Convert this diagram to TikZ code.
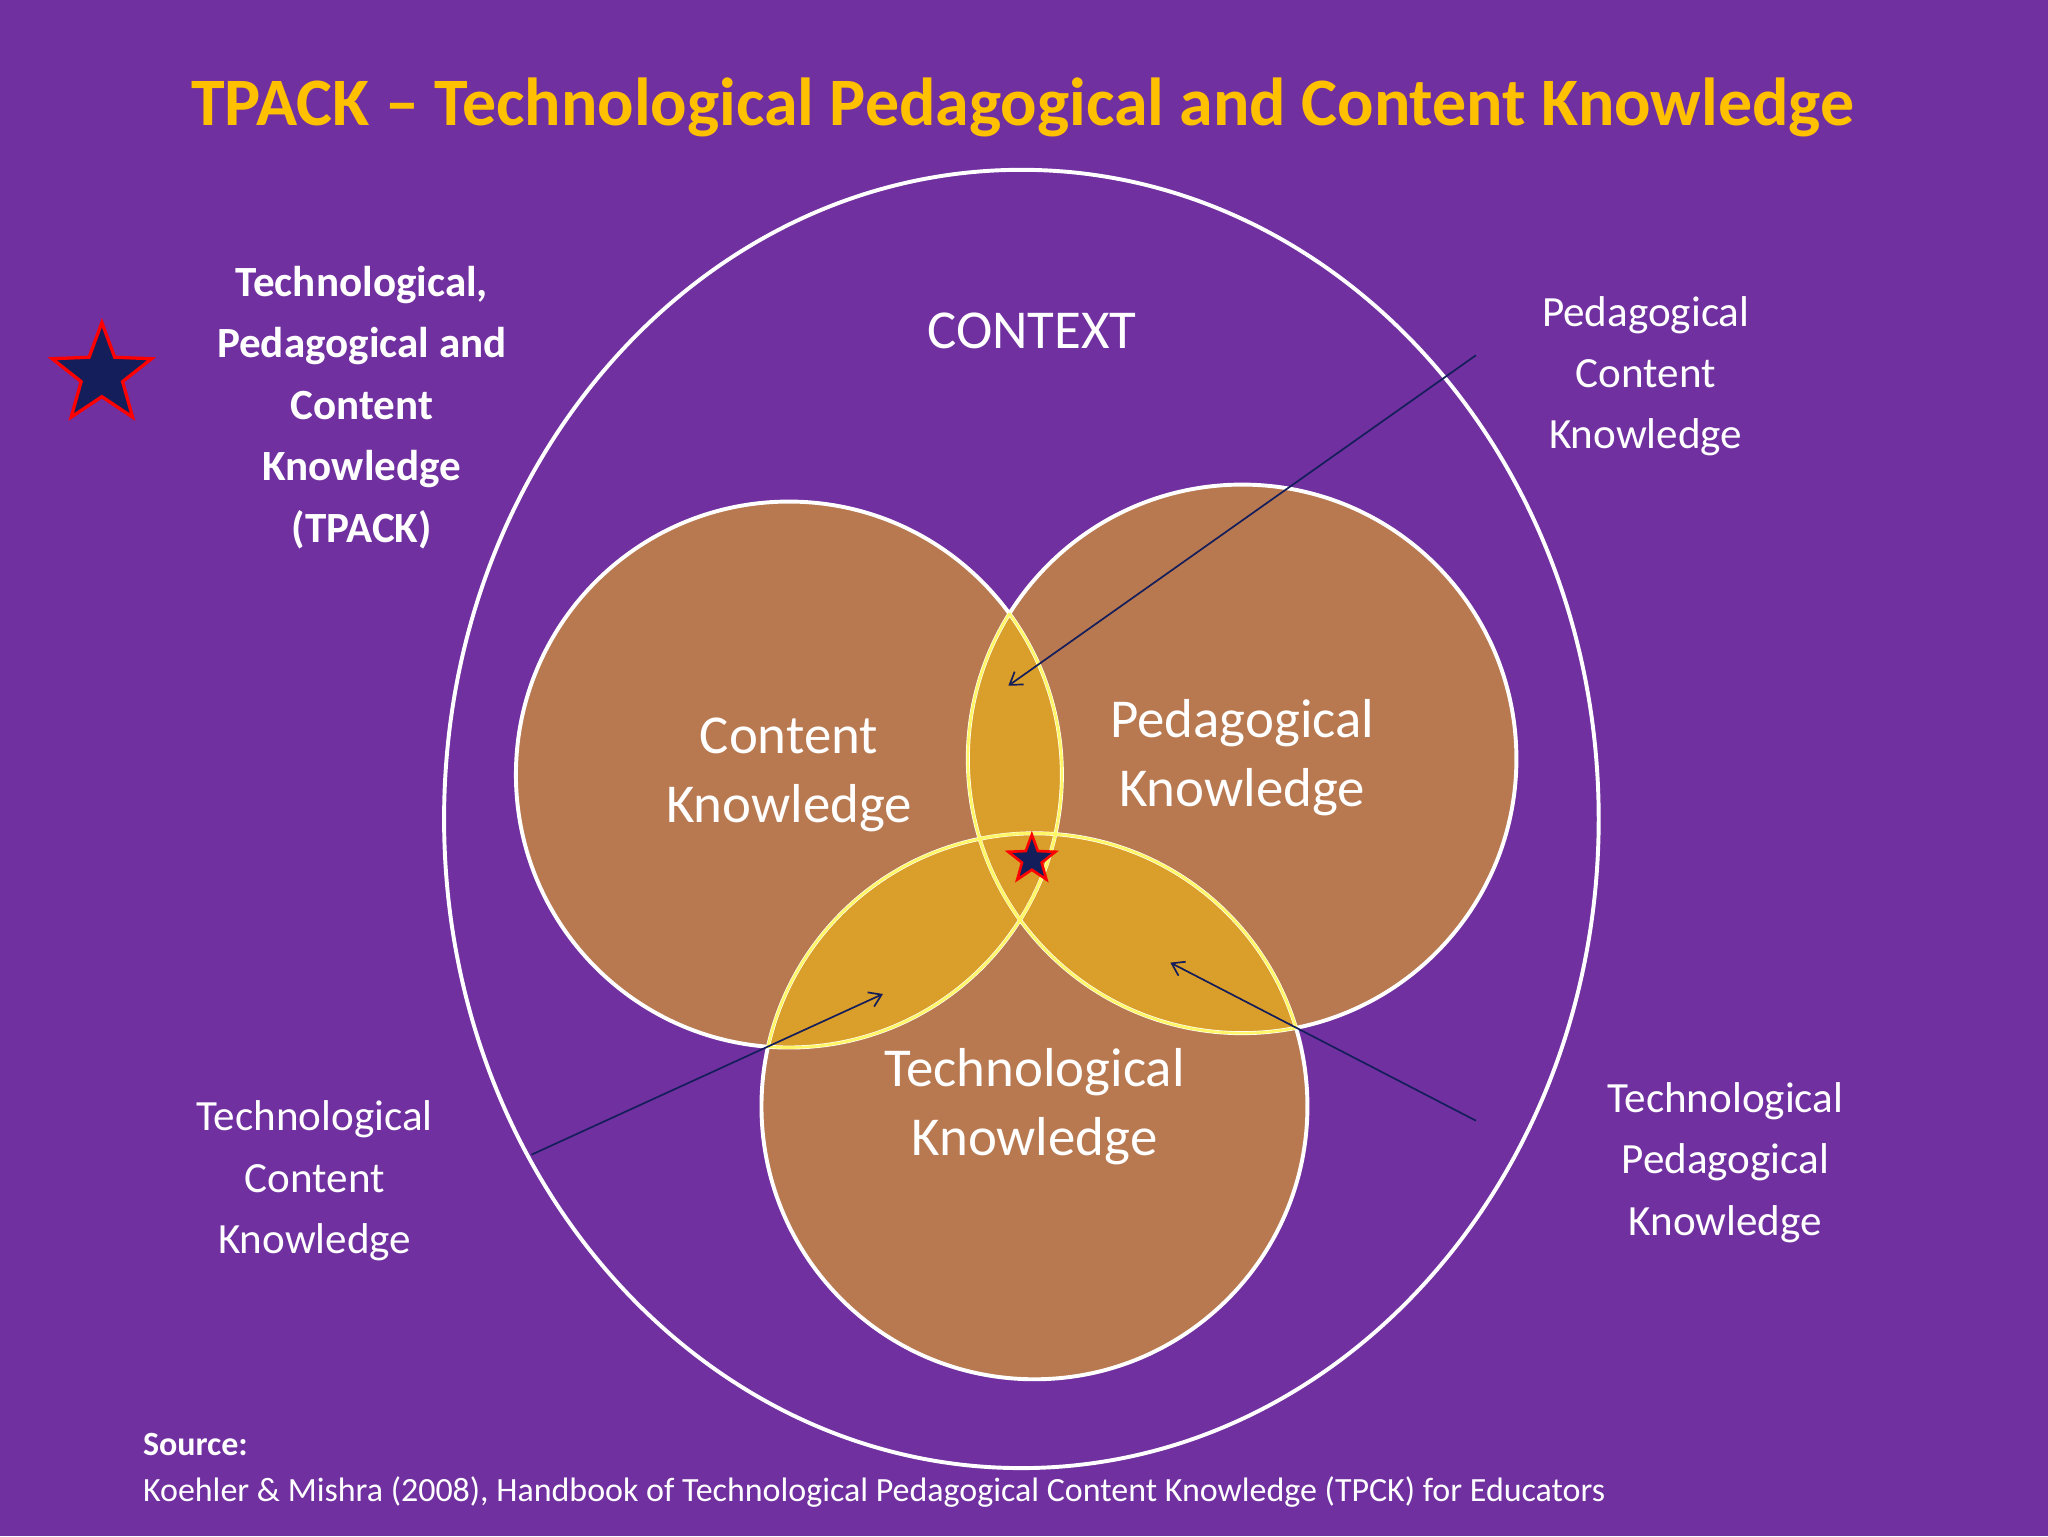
\documentclass[tikz,border=0pt]{standalone}
\usepackage{fontspec}
\setmainfont{Carlito}
\usetikzlibrary{shapes.geometric,arrows.meta}
\definecolor{bg}{RGB}{112,48,160}
\definecolor{brownk}{RGB}{184,120,80}
\definecolor{goldk}{RGB}{218,158,42}
\definecolor{titlec}{RGB}{255,192,0}
\definecolor{navyk}{RGB}{20,30,90}
\begin{document}
\begin{tikzpicture}[x=1pt,y=-1pt,
  lbl/.style={text=white,align=center,font=\fontsize{33}{47}\selectfont},
  big/.style={text=white,align=center,font=\fontsize{42}{53}\selectfont},
  arr/.style={draw=navyk,line width=1.3pt,-{Straight Barb[length=9pt,width=12pt]}},
  starbig/.style={star,star points=5,star point ratio=2.4,fill=navyk,draw=red,line width=2.5pt}]
\fill[bg] (0,0) rectangle (1568,1176);
\useasboundingbox (0,0) rectangle (1568,1176);
\node[text=titlec,font=\fontsize{52}{60}\selectfont\bfseries] (title) at (783,82) {TPACK – Technological Pedagogical and Content Knowledge};
\draw[white,line width=3pt] (782,627) ellipse [x radius=442, y radius=497];
\coordinate (C) at (604,593);
\coordinate (P) at (951,581);
\coordinate (T) at (792,847);
\fill[brownk] (C) circle (209) (P) circle (210) (T) circle (209);
\begin{scope}\clip (C) circle (209); \fill[goldk] (P) circle (210) (T) circle (209);\end{scope}
\begin{scope}\clip (P) circle (210); \fill[goldk] (T) circle (209);\end{scope}
\draw[white,line width=3pt] (C) circle (209) (P) circle (210) (T) circle (209);
\begin{scope}\clip (C) circle (209); \draw[yellow!60!white,line width=2pt] (P) circle (210) (T) circle (209);\end{scope}
\begin{scope}\clip (P) circle (210); \draw[yellow!60!white,line width=2pt] (C) circle (209) (T) circle (209);\end{scope}
\begin{scope}\clip (T) circle (209); \draw[yellow!60!white,line width=2pt] (C) circle (209) (P) circle (210);\end{scope}
\node[big] (ctx) at (790,253) {CONTEXT};
\node[big] (ck) at (604,593) {Content\\Knowledge};
\node[big] (pk) at (951,580) {Pedagogical\\Knowledge};
\node[big] (tk) at (792,847) {Technological\\Knowledge};
\node[text=white,align=center,font=\fontsize{33}{47}\selectfont\bfseries] (tpack) at (277,312) {Technological,\\Pedagogical and\\Content\\Knowledge\\(TPACK)};
\node[starbig,minimum size=80pt] (s1) at (78,287) {};
\node[starbig,minimum size=38pt,line width=2pt] (s2) at (790,658) {};
\node[lbl] (pck) at (1260,288) {Pedagogical\\Content\\Knowledge};
\node[lbl] (tpk) at (1321,890) {Technological\\Pedagogical\\Knowledge};
\node[lbl] (tck) at (241,904) {Technological\\Content\\Knowledge};
\coordinate (a1s) at (1130,272); \coordinate (a1e) at (772,525);
\coordinate (a2s) at (407,884); \coordinate (a2e) at (676,761);
\coordinate (a3s) at (1130,858); \coordinate (a3e) at (896,737);
\draw[arr] (a1s) -- (a1e);
\draw[arr] (a2s) -- (a2e);
\draw[arr] (a3s) -- (a3e);
\node[text=white,anchor=west,font=\fontsize{26}{30}\selectfont\bfseries] (src) at (106,1106) {Source:};
\node[text=white,anchor=west,font=\fontsize{26}{30}\selectfont] (cite) at (106,1142) {Koehler \& Mishra (2008), Handbook of Technological Pedagogical Content Knowledge (TPCK) for Educators};
\end{tikzpicture}
\end{document}
